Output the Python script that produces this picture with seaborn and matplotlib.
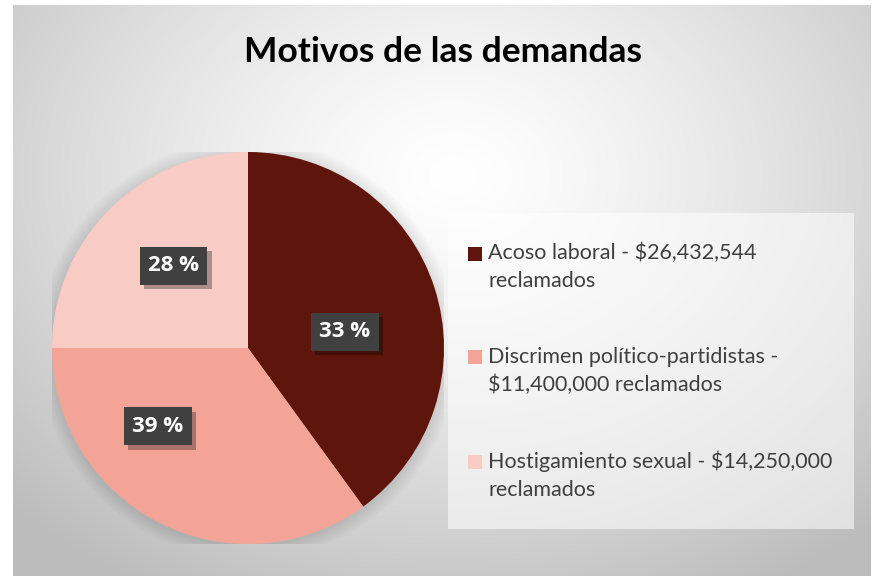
import numpy as np
import matplotlib
matplotlib.use("Agg")
import matplotlib.pyplot as plt
import matplotlib.patheffects as pe
import seaborn as sns
from matplotlib.patches import Rectangle, Circle
from matplotlib.legend_handler import HandlerPatch

# Data
categories = ["Acoso laboral - $26,432,544\nreclamados",
              "Discrimen político-partidistas -\n$11,400,000 reclamados",
              "Hostigamiento sexual - $14,250,000\nreclamados"]
slice_sizes = [40, 35, 25]          # angular share of each wedge
pct_labels = ["33 %", "39 %", "28 %"]  # labels printed on the wedges

colors = sns.color_palette(["#5E160C", "#F4A497", "#F8CBC4"])

sns.set_theme(style="white")
plt.rcParams["font.family"] = ["Lato", "DejaVu Sans"]

W, H = 874, 576
fig = plt.figure(figsize=(W / 100, H / 100), dpi=100)
fig.patch.set_facecolor("white")

# radial gradient background inside the chart frame
bg = fig.add_axes([13 / W, 0, (871 - 13) / W, (576 - 5) / H])
yy, xx = np.mgrid[0:571, 0:858]
d = np.hypot((xx - 440) / 560, (yy - 170) / 430)
shade = 1.0 - 0.23 * np.clip(d, 0, 1.1) ** 1.3
bg.imshow(np.dstack([shade] * 3), aspect="auto", interpolation="bilinear")
bg.set_axis_off()

# legend panel
fig.patches.append(Rectangle((448 / W, 1 - 529 / H), (854 - 448) / W, (529 - 213) / H,
                             transform=fig.transFigure, facecolor="white", alpha=0.55,
                             edgecolor="none", zorder=1))

fig.text(443 / W, 1 - 52 / H, "Motivos de las demandas", ha="center", va="center",
         fontsize=25.5, fontweight="bold", color="black")

ax = fig.add_axes([52 / W, 32 / H, 392 / W, 392 / H])
# soft shadow around the pie
for k in range(8):
    ax.add_patch(Circle((0.0, -0.005), 1.0 + 0.009 * (k + 1), color="black",
                        alpha=0.012, lw=0, zorder=0))
wedges, _ = ax.pie(slice_sizes, colors=colors, startangle=90, counterclock=False,
                   radius=1.0, wedgeprops=dict(linewidth=0))
ax.set_xlim(-1, 1)
ax.set_ylim(-1, 1)
ax.set_axis_off()

label_pos = [(0.495, 0.082), (-0.46, -0.40), (-0.38, 0.42)]
for (lx, ly), txt in zip(label_pos, pct_labels):
    t = ax.text(lx, ly, txt, ha="center", va="center", fontsize=16, fontweight="bold",
                color="white", family=["Open Sans", "DejaVu Sans"],
                bbox=dict(boxstyle="square,pad=0.38", facecolor="#404040", lw=0))
    t.get_bbox_patch().set_path_effects(
        [pe.SimplePatchShadow(offset=(3, -3), shadow_rgbFace="black", alpha=0.3), pe.Normal()])

fs = 15.5


def top_square(legend, orig_handle, xdescent, ydescent, width, height, fontsize):
    s = width
    return Rectangle((-xdescent, -ydescent + height / 2 + 10 - s / 2), s, s)


leg = fig.legend(wedges, categories, loc="upper left",
                 bbox_to_anchor=(468 / W, 1 - 243 / H), frameon=False,
                 borderpad=0, borderaxespad=0,
                 fontsize=fs, labelcolor="#404040", labelspacing=2.56,
                 handlelength=0.65, handletextpad=0.28,
                 handler_map={w: HandlerPatch(patch_func=top_square) for w in wedges})
for t in leg.get_texts():
    t.set_linespacing(1.5)

fig.savefig("out.png", dpi=100)
